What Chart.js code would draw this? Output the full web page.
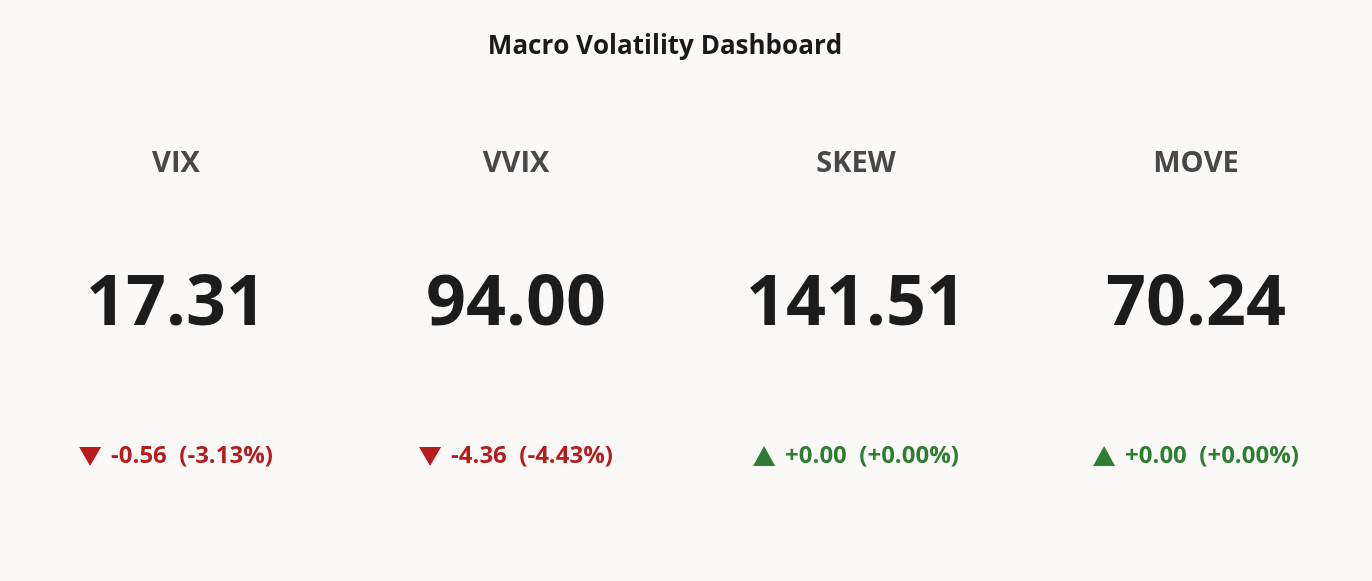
<!DOCTYPE html>
<html><head><meta charset="utf-8">
<script src="https://cdn.jsdelivr.net/npm/chart.js@4"></script>
<style>html,body{margin:0;padding:0;background:#faf9f7;}#w{width:1372px;height:581px;}</style>
</head><body><div id="w"><canvas id="c"></canvas></div>
<script>
const labels = ["VIX","VVIX","SKEW","MOVE"];
const values = [17.31, 94.00, 141.51, 70.24];
const changes = [-0.56, -4.36, 0.00, 0.00];
const pctChanges = [-3.13, -4.43, 0.00, 0.00];
const chartTitle = 'Macro Volatility Dashboard';
const F = '"Open Sans", "Noto Sans", sans-serif';
const kpi = {
  id:'kpi',
  afterDraw(chart){
    const ctx = chart.ctx, W = chart.width;
    const left = 6, colW = (W - 12) / labels.length;
    ctx.save();
    ctx.textBaseline='middle';
    ctx.textAlign='center';
    ctx.fillStyle='#1a1a1a'; ctx.font='bold 26px '+F;
    ctx.fillText(chartTitle, 665, 47);
    labels.forEach((l,i)=>{
      const cx = left + colW*(i+0.5);
      ctx.textAlign='center';
      ctx.fillStyle='#484848'; ctx.font='bold 29px '+F;
      ctx.fillText(l, cx, 164);
      ctx.fillStyle='#1c1c1c'; ctx.font='bold 70px '+F;
      ctx.fillText(values[i].toFixed(2), cx, 305);
      const up = changes[i] >= 0;
      const sign = up ? '+' : '';
      const txt = sign + changes[i].toFixed(2) + '  (' + sign + pctChanges[i].toFixed(2) + '%)';
      ctx.fillStyle = up ? '#2e7d32' : '#b71c1c';
      ctx.font='bold 24px '+F;
      const tw = ctx.measureText(txt).width;
      const triW = 22, gap = 10;
      const x0 = cx - (tw + triW + gap)/2;
      // triangle
      ctx.beginPath();
      if (up) { ctx.moveTo(x0, 466); ctx.lineTo(x0+triW, 466); ctx.lineTo(x0+triW/2, 446); }
      else { ctx.moveTo(x0, 447); ctx.lineTo(x0+triW, 447); ctx.lineTo(x0+triW/2, 466); }
      ctx.closePath(); ctx.fill();
      ctx.textAlign='left';
      ctx.fillText(txt, x0 + triW + gap, 456);
    });
    ctx.restore();
  }
};
new Chart(document.getElementById('c'), {
  type:'bar',
  data:{labels:labels, datasets:[{data:[], backgroundColor:'transparent'}]},
  options:{
    responsive:true, maintainAspectRatio:false, animation:false,
    plugins:{ legend:{display:false}, tooltip:{enabled:false}, title:{display:false} },
    scales:{x:{display:false}, y:{display:false}}
  },
  plugins:[kpi]
});
</script></body></html>
